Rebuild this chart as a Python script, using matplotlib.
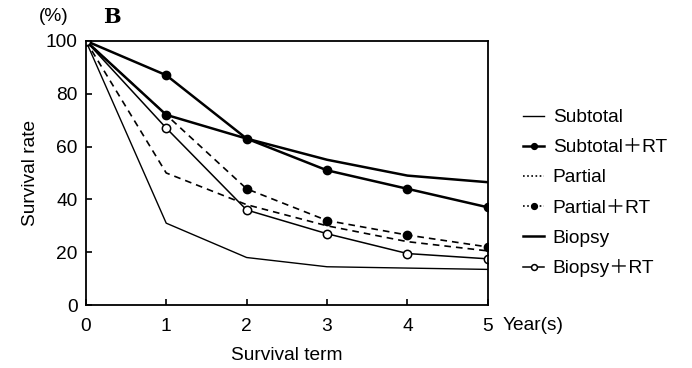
import numpy as np
import matplotlib.pyplot as plt
from matplotlib.lines import Line2D

plt.rcParams['font.family'] = ['Liberation Sans', 'Noto Sans CJK JP']

years = [0, 1, 2, 3, 4, 5]
subtotal = [100, 31, 18, 14.5, 14, 13.5]
subtotal_rt = [100, 87, 63, 51, 44, 37]
partial = [100, 50, 38, 30, 24, 20.5]
partial_rt = [100, 72, 44, 32, 26.5, 22]
biopsy = [100, 72, 63, 55, 49, 46.5]
biopsy_rt = [100, 67, 36, 27, 19.5, 17.5]

labels = ['Subtotal', 'Subtotal\uff0bRT', 'Partial', 'Partial\uff0bRT', 'Biopsy', 'Biopsy\uff0bRT']
fs = 13.8

fig = plt.figure(figsize=(6.92, 3.68), dpi=100)
ax = fig.add_axes([0.124, 0.171, 0.581, 0.718])

h1, = ax.plot(years, subtotal, color='black', lw=1.0)
h2, = ax.plot(years, subtotal_rt, color='black', lw=1.8, marker='o', ms=6,
              markerfacecolor='black')
ax.plot(years, partial, color='black', lw=1.2, ls=(0, (4, 3)))
ax.plot(years, partial_rt, color='black', lw=1.2, ls=(0, (4, 3)),
        marker='o', ms=6, markerfacecolor='black')
h5, = ax.plot(years, biopsy, color='black', lw=1.8)
h6, = ax.plot(years, biopsy_rt, color='black', lw=1.1, marker='o', ms=6,
              markerfacecolor='white', markeredgewidth=1.1)

# legend shows Partial lines as dotted
h3 = Line2D([], [], color='black', lw=1.2, ls=(0, (1, 1.5)))
h4 = Line2D([], [], color='black', lw=1.2, ls=(0, (1, 1.5)), marker='o', ms=6,
            markerfacecolor='black')

ax.set_xlim(0, 5)
ax.set_ylim(0, 100)
ax.set_xticks(years)
ax.set_yticks([0, 20, 40, 60, 80, 100])
ax.tick_params(direction='in', length=4, width=1.2, labelsize=fs)
ax.tick_params(axis='x', pad=9)
ax.tick_params(axis='y', pad=6)
for s in ax.spines.values():
    s.set_linewidth(1.3)

ax.set_xlabel('Survival term', fontsize=fs, labelpad=9)
ax.set_ylabel('Survival rate', fontsize=fs, labelpad=5)
fig.text(0.771, 0.116, 'Year(s)', fontsize=fs, ha='center', va='center')
fig.text(0.077, 0.955, '(%)', fontsize=fs, ha='center', va='center')
fig.text(0.162, 0.953, 'B', fontsize=15, fontweight='bold', family='DejaVu Serif',
         ha='center', va='center')

ax.legend([h1, h2, h3, h4, h5, h6], labels, loc='upper left',
          bbox_to_anchor=(0.742, 0.73), bbox_transform=fig.transFigure,
          frameon=False, fontsize=fs, handlelength=1.1, handletextpad=0.45,
          labelspacing=0.66, borderpad=0, markerscale=0.7)

fig.savefig('out.png', dpi=100)
